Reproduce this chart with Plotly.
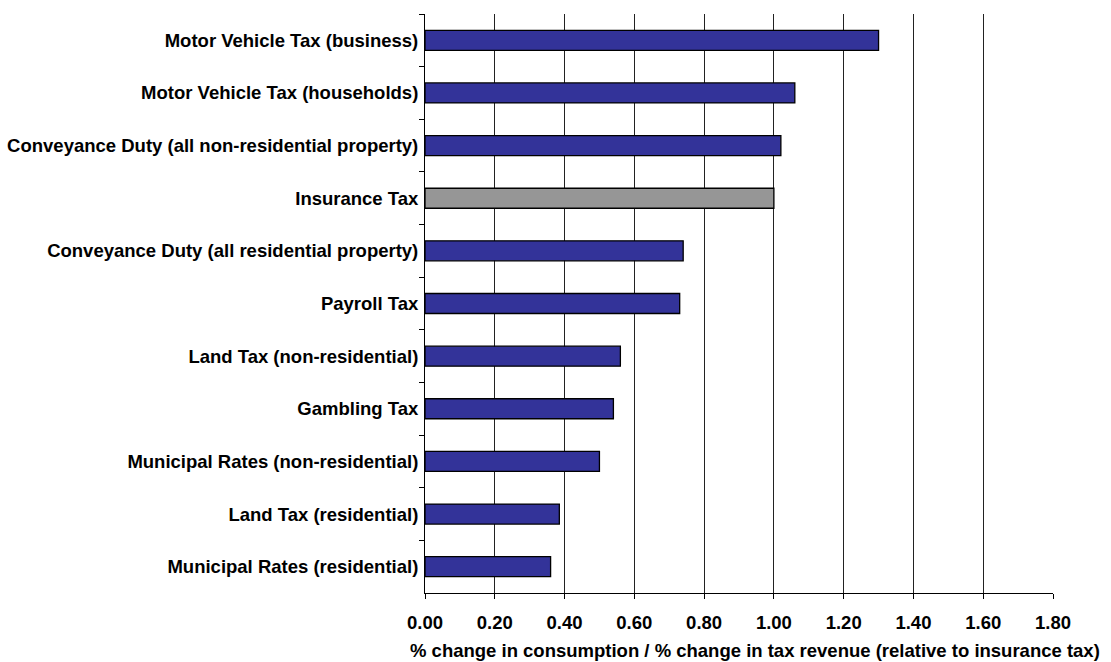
import plotly.graph_objects as go

categories = [
    "Motor Vehicle Tax (business)",
    "Motor Vehicle Tax (households)",
    "Conveyance Duty (all non-residential property)",
    "Insurance Tax",
    "Conveyance Duty (all residential property)",
    "Payroll Tax",
    "Land Tax (non-residential)",
    "Gambling Tax",
    "Municipal Rates (non-residential)",
    "Land Tax (residential)",
    "Municipal Rates (residential)",
]
values = [1.30, 1.06, 1.02, 1.00, 0.74, 0.73, 0.56, 0.54, 0.50, 0.385, 0.36]
x_ticks = [0.0, 0.2, 0.4, 0.6, 0.8, 1.0, 1.2, 1.4, 1.6, 1.8]
x_title = "% change in consumption / % change in tax revenue (relative to insurance tax)"

BLUE = "#333399"
GREY = "#969696"
colors = [GREY if c == "Insurance Tax" else BLUE for c in categories]

font = "Liberation Sans, Arial, sans-serif"
FS = 18.5

fig = go.Figure(
    go.Bar(
        x=values,
        y=categories,
        orientation="h",
        marker=dict(color=colors, line=dict(color="black", width=1.3)),
        width=0.38,
        hoverinfo="x+y",
    )
)

fig.update_layout(
    width=1111,
    height=662,
    margin=dict(l=425, r=58, t=14, b=69),
    paper_bgcolor="white",
    plot_bgcolor="white",
    showlegend=False,
    font=dict(family=font, size=FS, color="black"),
)

# axis title placed as an annotation, slightly right of the plot centre
fig.add_annotation(
    text=f"<b>{x_title}</b>",
    xref="paper",
    yref="paper",
    x=0.5255,
    y=-0.100,
    xanchor="center",
    yanchor="middle",
    showarrow=False,
    font=dict(family=font, size=FS, color="black"),
)

fig.update_xaxes(
    range=[0, 1.8],
    tickvals=x_ticks,
    ticktext=[f"{v:.2f}" for v in x_ticks],
    tickfont=dict(family=font, size=FS, color="black", weight="bold"),
    automargin=False,
    showgrid=True,
    gridcolor="#222222",
    gridwidth=1,
    zeroline=False,
    showline=True,
    linecolor="black",
    linewidth=1,
    ticks="outside",
    ticklen=5,
    tickcolor="black",
    ticklabelstandoff=8,
)

fig.update_yaxes(
    categoryorder="array",
    categoryarray=categories,
    autorange="reversed",
    tickfont=dict(family=font, size=FS, color="black", weight="bold"),
    automargin=False,
    showgrid=False,
    showline=True,
    linecolor="black",
    linewidth=1,
    ticks="outside",
    tickson="boundaries",
    ticklen=5,
    tickcolor="black",
    ticklabelstandoff=2,
)

fig.write_html("out.html")
